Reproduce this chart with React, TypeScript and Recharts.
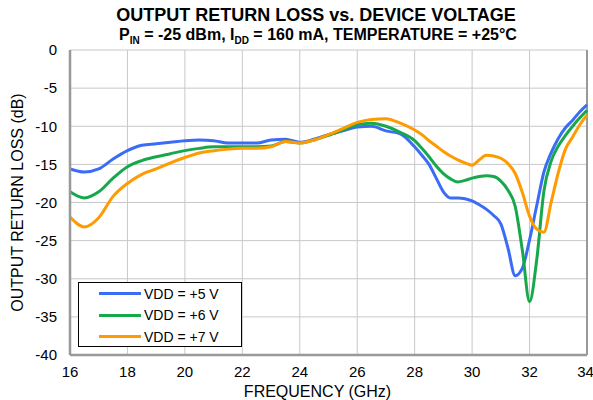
import {
  LineChart,
  Line,
  XAxis,
  YAxis,
  CartesianGrid,
  ReferenceLine,
} from "recharts";

const FONT = '"Liberation Sans", Arial, sans-serif';

const freqGHz = [
  16, 16.5, 17, 17.5, 18, 18.5, 19, 19.5, 20, 20.5, 21, 21.5, 22, 22.5, 23,
  23.5, 24, 24.5, 25, 25.5, 26, 26.5, 27, 27.5, 28, 28.25, 28.5, 28.75, 29,
  29.25, 29.5, 29.75, 30, 30.25, 30.5, 30.75, 31, 31.25, 31.5, 31.75, 32,
  32.25, 32.5, 32.75, 33, 33.25, 33.5, 33.75, 34,
];

const vdd5 = [
  -15.6, -16.0, -15.6, -14.3, -13.2, -12.5, -12.3, -12.1, -11.9, -11.8, -11.9,
  -12.2, -12.2, -12.2, -11.8, -11.7, -12.1, -11.7, -11.1, -10.6, -10.1, -10.0,
  -10.6, -11.0, -12.7, -13.8, -15.0, -16.8, -18.6, -19.4, -19.4, -19.5, -19.8,
  -20.3, -20.9, -21.7, -22.8, -26.0, -29.6, -28.6, -24.9, -20.4, -16.0, -13.5,
  -11.6, -10.2, -9.2, -8.1, -7.2,
];

const vdd6 = [
  -18.6, -19.4, -18.6, -16.8, -15.3, -14.5, -14.0, -13.6, -13.2, -12.9, -12.7,
  -12.7, -12.7, -12.7, -12.6, -12.0, -12.2, -11.8, -11.2, -10.5, -9.8, -9.6,
  -10.0, -10.8, -11.9, -12.9, -14.0, -15.2, -16.2, -16.9, -17.3, -17.1, -16.8,
  -16.6, -16.5, -16.6, -17.2, -18.4, -20.5, -26.3, -33.0, -27.5, -18.5, -14.6,
  -12.6, -11.2, -10.0, -8.9, -7.9,
];

const vdd7 = [
  -21.9, -23.2, -22.0, -19.2, -17.5, -16.3, -15.6, -14.8, -14.1, -13.5, -13.2,
  -13.0, -12.9, -12.9, -12.7, -12.0, -12.2, -11.8, -11.1, -10.3, -9.5, -9.1,
  -9.0, -9.6, -10.5, -11.1, -11.9, -12.6, -13.3, -13.9, -14.4, -14.8, -15.1,
  -14.4, -13.8, -13.9, -14.2, -14.9, -16.2, -18.7, -21.8, -23.5, -23.9, -20.0,
  -16.1, -13.0, -11.4, -9.8, -8.5,
];

const xTicks = [16, 18, 20, 22, 24, 26, 28, 30, 32, 34];
const yTicks = [0, -5, -10, -15, -20, -25, -30, -35, -40];

const series = [
  { key: "vdd5", name: "VDD = +5 V", color: "#3b6cf6" },
  { key: "vdd6", name: "VDD = +6 V", color: "#17a84b" },
  { key: "vdd7", name: "VDD = +7 V", color: "#ff9a00" },
];

const data = freqGHz.map((f, i) => ({
  f,
  vdd5: vdd5[i],
  vdd6: vdd6[i],
  vdd7: vdd7[i],
}));

// legend drawn as an overlay so it doesn't shrink the plot area
function LegendBox() {
  return (
    <div
      style={{
        position: "absolute",
        left: 78,
        top: 282,
        width: 164,
        height: 65,
        boxSizing: "border-box",
        border: "1px solid #000",
        background: "#fff",
        fontFamily: FONT,
        fontSize: 14,
        color: "#000",
      }}
    >
      {series.map((s) => (
        <div
          key={s.key}
          style={{ display: "flex", alignItems: "center", height: 21.5 }}
        >
          <span
            style={{
              display: "inline-block",
              marginLeft: 20,
              width: 42,
              height: 3,
              background: s.color,
            }}
          />
          <span style={{ marginLeft: 3 }}>{s.name}</span>
        </div>
      ))}
    </div>
  );
}

export default function App() {
  return (
    <div
      style={{
        position: "absolute",
        left: 0,
        top: 0,
        width: 593,
        height: 400,
        background: "#fff",
        fontFamily: FONT,
      }}
    >
      <div
        style={{
          position: "absolute",
          left: 0,
          width: 632,
          top: 5,
          textAlign: "center",
          fontWeight: "bold",
          fontSize: 18,
          lineHeight: "20px",
        }}
      >
        OUTPUT RETURN LOSS vs. DEVICE VOLTAGE
      </div>
      <div
        style={{
          position: "absolute",
          left: 0,
          width: 636,
          top: 25,
          textAlign: "center",
          fontWeight: "bold",
          fontSize: 16,
          lineHeight: "20px",
        }}
      >
        P<sub style={{ fontSize: 10 }}>IN</sub> = -25 dBm, I
        <sub style={{ fontSize: 10 }}>DD</sub> = 160 mA, TEMPERATURE = +25°C
      </div>
      <LineChart
        width={593}
        height={400}
        data={data}
        margin={{ top: 50, right: 6, bottom: 0, left: 0 }}
        style={{ position: "absolute", left: 0, top: 0 }}
      >
        <CartesianGrid stroke="#c8c8c8" strokeWidth={1} />
        <XAxis
          dataKey="f"
          type="number"
          domain={[16, 34]}
          ticks={xTicks}
          height={45}
          tickLine={false}
          tickSize={0}
          tickMargin={11}
          axisLine={{ stroke: "#999", strokeWidth: 2.5 }}
          tick={{ fill: "#000", fontSize: 15, fontFamily: FONT }}
          label={{
            value: "FREQUENCY (GHz)",
            position: "insideBottom",
            offset: 3,
            dx: -11,
            fill: "#000",
            fontSize: 16,
            fontFamily: FONT,
          }}
        />
        <YAxis
          type="number"
          domain={[-40, 0]}
          ticks={yTicks}
          width={70}
          tickLine={false}
          tickSize={0}
          tickMargin={13}
          axisLine={{ stroke: "#999", strokeWidth: 2.5 }}
          tick={{ fill: "#000", fontSize: 15, fontFamily: FONT }}
          label={{
            value: "OUTPUT  RETURN LOSS (dB)",
            angle: -90,
            position: "insideLeft",
            offset: 17,
            fill: "#000",
            fontSize: 16,
            fontFamily: FONT,
            style: { textAnchor: "middle", whiteSpace: "pre" },
          }}
        />
        <ReferenceLine x={34} stroke="#999" strokeWidth={2} />
        {series.map((s) => (
          <Line
            key={s.key}
            dataKey={s.key}
            name={s.name}
            type="monotone"
            stroke={s.color}
            strokeWidth={3}
            dot={false}
            activeDot={false}
            isAnimationActive={false}
          />
        ))}
      </LineChart>
      <LegendBox />
    </div>
  );
}
